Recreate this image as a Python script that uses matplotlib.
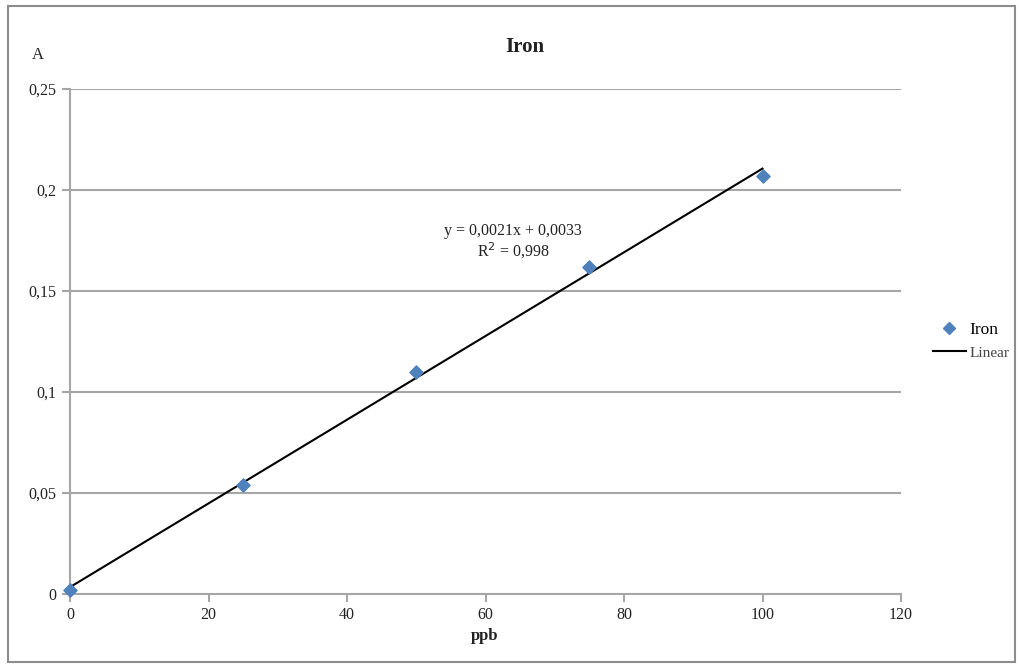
import numpy as np
import matplotlib
matplotlib.use("Agg")
import matplotlib.pyplot as plt
from matplotlib.lines import Line2D
from matplotlib.patches import Rectangle

conc_ppb = [0, 25, 50, 75, 100]
absorbance = [0.002, 0.054, 0.110, 0.162, 0.207]
x_ticks = [0, 20, 40, 60, 80, 100, 120]
y_ticks = [0, 0.05, 0.10, 0.15, 0.20, 0.25]
y_tick_labels = ["0", "0,05", "0,1", "0,15", "0,2", "0,25"]
equation_text = "y = 0,0021x + 0,0033\nR$^2$ = 0,998"

plt.rcParams['font.family'] = ['Liberation Serif', 'DejaVu Serif']

fig = plt.figure(figsize=(10.19, 6.66), dpi=100)
fig.patches.append(Rectangle((8/1019, 1-662/666), 1007/1019, 656/666, transform=fig.transFigure,
                             fill=False, edgecolor='#8c8c8c', linewidth=1.5))
ax = fig.add_axes([70/1019, 1-594/666, 831/1019, 505/666])

grid_c = '#a6a6a6'
ax.set_xlim(0, 120)
ax.set_ylim(0, 0.25)
ax.set_xticks(x_ticks)
ax.set_yticks(y_ticks)
ax.set_yticklabels(y_tick_labels)
for y in y_ticks[1:]:
    ax.axhline(y, color=grid_c, linewidth=1.5, zorder=1)
for s in ['top', 'right']:
    ax.spines[s].set_visible(False)
for s in ['left', 'bottom']:
    ax.spines[s].set_color(grid_c)
    ax.spines[s].set_linewidth(1.5)
ax.tick_params(colors=grid_c, width=1.5, length=6, labelcolor='#222222', labelsize=11.5)

x = np.array(conc_ppb, dtype=float)
y = np.array(absorbance)
slope, intercept = np.polyfit(x, y, 1)
xs = np.array([x.min(), x.max()])
ax.plot(xs, slope*xs + intercept, color='black', linewidth=1.5, zorder=3, clip_on=False)
ax.scatter(x, y, marker='D', s=45, color='#4F81BD', zorder=4, clip_on=False)

fig.text(525/1019, 1-47/666, "Iron", ha='center', va='center', fontsize=15, fontweight='bold', color='#222222')
fig.text(38/1019, 1-55/666, "A", ha='center', va='center', fontsize=12, color='#222222')
fig.text(485/1019, 1-636/666, "ppb", ha='center', va='center', fontsize=12, fontweight='bold', color='#222222')
fig.text(513/1019, 1-242/666, equation_text, ha='center', va='center', fontsize=11.5, color='#222222',
         linespacing=1.1)

handles = [Line2D([], [], marker='D', linestyle='none', color='#4F81BD', markersize=6),
           Line2D([], [], color='black', linewidth=1.5)]
leg = fig.legend(handles, ["Iron", "Linear"], loc='center left', bbox_to_anchor=(917/1019, 1-341/666),
                 frameon=False, fontsize=12.5, handlelength=1.9, handletextpad=0.2, labelspacing=0.4)
leg.get_texts()[1].set_fontsize(11)
leg.get_texts()[1].set_color('#444444')

fig.savefig("out.png", dpi=100)
